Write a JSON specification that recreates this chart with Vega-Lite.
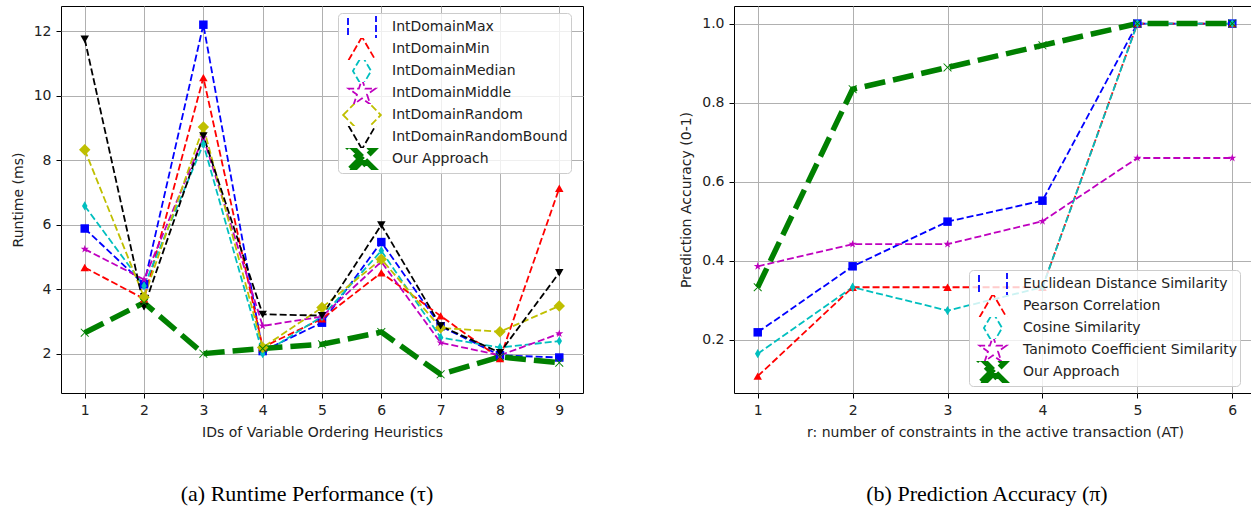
{
  "$schema": "https://vega.github.io/schema/vega-lite/v6.json",
  "padding": {"left": 10, "top": 5, "right": 0, "bottom": 0},
  "background": "white",
  "datasets": {
    "rt": [
      {"id": 1, "heuristic": "IntDomainMax", "runtime": 5.88},
      {"id": 2, "heuristic": "IntDomainMax", "runtime": 4.15},
      {"id": 3, "heuristic": "IntDomainMax", "runtime": 12.2},
      {"id": 4, "heuristic": "IntDomainMax", "runtime": 2.08},
      {"id": 5, "heuristic": "IntDomainMax", "runtime": 2.96},
      {"id": 6, "heuristic": "IntDomainMax", "runtime": 5.46},
      {"id": 7, "heuristic": "IntDomainMax", "runtime": 2.85},
      {"id": 8, "heuristic": "IntDomainMax", "runtime": 1.95},
      {"id": 9, "heuristic": "IntDomainMax", "runtime": 1.88},
      {"id": 1, "heuristic": "IntDomainMin", "runtime": 4.67},
      {"id": 2, "heuristic": "IntDomainMin", "runtime": 3.7},
      {"id": 3, "heuristic": "IntDomainMin", "runtime": 10.56},
      {"id": 4, "heuristic": "IntDomainMin", "runtime": 2.2},
      {"id": 5, "heuristic": "IntDomainMin", "runtime": 3.08},
      {"id": 6, "heuristic": "IntDomainMin", "runtime": 4.51},
      {"id": 7, "heuristic": "IntDomainMin", "runtime": 3.17},
      {"id": 8, "heuristic": "IntDomainMin", "runtime": 1.85},
      {"id": 9, "heuristic": "IntDomainMin", "runtime": 7.13},
      {"id": 1, "heuristic": "IntDomainMedian", "runtime": 6.58},
      {"id": 2, "heuristic": "IntDomainMedian", "runtime": 4.1},
      {"id": 3, "heuristic": "IntDomainMedian", "runtime": 8.5},
      {"id": 4, "heuristic": "IntDomainMedian", "runtime": 2.0},
      {"id": 5, "heuristic": "IntDomainMedian", "runtime": 3.15},
      {"id": 6, "heuristic": "IntDomainMedian", "runtime": 5.19},
      {"id": 7, "heuristic": "IntDomainMedian", "runtime": 2.5},
      {"id": 8, "heuristic": "IntDomainMedian", "runtime": 2.19},
      {"id": 9, "heuristic": "IntDomainMedian", "runtime": 2.39},
      {"id": 1, "heuristic": "IntDomainMiddle", "runtime": 5.24},
      {"id": 2, "heuristic": "IntDomainMiddle", "runtime": 4.3},
      {"id": 3, "heuristic": "IntDomainMiddle", "runtime": 8.7},
      {"id": 4, "heuristic": "IntDomainMiddle", "runtime": 2.86},
      {"id": 5, "heuristic": "IntDomainMiddle", "runtime": 3.15},
      {"id": 6, "heuristic": "IntDomainMiddle", "runtime": 4.85},
      {"id": 7, "heuristic": "IntDomainMiddle", "runtime": 2.34},
      {"id": 8, "heuristic": "IntDomainMiddle", "runtime": 1.95},
      {"id": 9, "heuristic": "IntDomainMiddle", "runtime": 2.62},
      {"id": 1, "heuristic": "IntDomainRandom", "runtime": 8.32},
      {"id": 2, "heuristic": "IntDomainRandom", "runtime": 3.75},
      {"id": 3, "heuristic": "IntDomainRandom", "runtime": 9.03},
      {"id": 4, "heuristic": "IntDomainRandom", "runtime": 2.19},
      {"id": 5, "heuristic": "IntDomainRandom", "runtime": 3.43},
      {"id": 6, "heuristic": "IntDomainRandom", "runtime": 4.93},
      {"id": 7, "heuristic": "IntDomainRandom", "runtime": 2.8},
      {"id": 8, "heuristic": "IntDomainRandom", "runtime": 2.68},
      {"id": 9, "heuristic": "IntDomainRandom", "runtime": 3.48},
      {"id": 1, "heuristic": "IntDomainRandomBound", "runtime": 11.75},
      {"id": 2, "heuristic": "IntDomainRandomBound", "runtime": 3.45},
      {"id": 3, "heuristic": "IntDomainRandomBound", "runtime": 8.75},
      {"id": 4, "heuristic": "IntDomainRandomBound", "runtime": 3.22},
      {"id": 5, "heuristic": "IntDomainRandomBound", "runtime": 3.18},
      {"id": 6, "heuristic": "IntDomainRandomBound", "runtime": 5.99},
      {"id": 7, "heuristic": "IntDomainRandomBound", "runtime": 2.86},
      {"id": 8, "heuristic": "IntDomainRandomBound", "runtime": 2.03},
      {"id": 9, "heuristic": "IntDomainRandomBound", "runtime": 4.51},
      {"id": 1, "heuristic": "Our Approach", "runtime": 2.65},
      {"id": 2, "heuristic": "Our Approach", "runtime": 3.58},
      {"id": 3, "heuristic": "Our Approach", "runtime": 2.0},
      {"id": 4, "heuristic": "Our Approach", "runtime": 2.16},
      {"id": 5, "heuristic": "Our Approach", "runtime": 2.29},
      {"id": 6, "heuristic": "Our Approach", "runtime": 2.67},
      {"id": 7, "heuristic": "Our Approach", "runtime": 1.36},
      {"id": 8, "heuristic": "Our Approach", "runtime": 1.9},
      {"id": 9, "heuristic": "Our Approach", "runtime": 1.72}
    ],
    "acc": [
      {"r": 1, "method": "Euclidean Distance Similarity", "accuracy": 0.219},
      {"r": 2, "method": "Euclidean Distance Similarity", "accuracy": 0.386},
      {"r": 3, "method": "Euclidean Distance Similarity", "accuracy": 0.499},
      {"r": 4, "method": "Euclidean Distance Similarity", "accuracy": 0.552},
      {"r": 5, "method": "Euclidean Distance Similarity", "accuracy": 1.0},
      {"r": 6, "method": "Euclidean Distance Similarity", "accuracy": 1.0},
      {"r": 1, "method": "Pearson Correlation", "accuracy": 0.108},
      {"r": 2, "method": "Pearson Correlation", "accuracy": 0.333},
      {"r": 3, "method": "Pearson Correlation", "accuracy": 0.333},
      {"r": 4, "method": "Pearson Correlation", "accuracy": 0.333},
      {"r": 5, "method": "Pearson Correlation", "accuracy": 1.0},
      {"r": 6, "method": "Pearson Correlation", "accuracy": 1.0},
      {"r": 1, "method": "Cosine Similarity", "accuracy": 0.165},
      {"r": 2, "method": "Cosine Similarity", "accuracy": 0.333},
      {"r": 3, "method": "Cosine Similarity", "accuracy": 0.274},
      {"r": 4, "method": "Cosine Similarity", "accuracy": 0.333},
      {"r": 5, "method": "Cosine Similarity", "accuracy": 1.0},
      {"r": 6, "method": "Cosine Similarity", "accuracy": 1.0},
      {"r": 1, "method": "Tanimoto Coefficient Similarity", "accuracy": 0.386},
      {"r": 2, "method": "Tanimoto Coefficient Similarity", "accuracy": 0.442},
      {"r": 3, "method": "Tanimoto Coefficient Similarity", "accuracy": 0.442},
      {"r": 4, "method": "Tanimoto Coefficient Similarity", "accuracy": 0.5},
      {"r": 5, "method": "Tanimoto Coefficient Similarity", "accuracy": 0.66},
      {"r": 6, "method": "Tanimoto Coefficient Similarity", "accuracy": 0.66},
      {"r": 1, "method": "Our Approach", "accuracy": 0.333},
      {"r": 2, "method": "Our Approach", "accuracy": 0.834},
      {"r": 3, "method": "Our Approach", "accuracy": 0.889},
      {"r": 4, "method": "Our Approach", "accuracy": 0.945},
      {"r": 5, "method": "Our Approach", "accuracy": 1.0},
      {"r": 6, "method": "Our Approach", "accuracy": 1.0}
    ]
  },
  "spacing": 95,
  "resolve": {
    "scale": {"color": "independent", "fill": "independent", "shape": "independent", "strokeDash": "independent", "strokeWidth": "independent"},
    "legend": {"color": "independent", "fill": "independent", "shape": "independent", "strokeDash": "independent", "strokeWidth": "independent"}
  },
  "hconcat": [
    {
      "width": 522,
      "height": 387,
      "data": {"name": "rt"},
      "title": {"text": "(a) Runtime Performance (τ)", "orient": "bottom", "font": "Liberation Serif", "fontSize": 22, "fontWeight": "normal", "color": "#000", "offset": 45, "dx": -15},
      "layer": [
        {
          "mark": {"type": "line"},
          "encoding": {
            "x": {"field": "id", "type": "quantitative", "scale": {"domain": [0.6, 9.4], "nice": false, "zero": false}, "axis": {"title": "IDs of Variable Ordering Heuristics", "values": [1, 2, 3, 4, 5, 6, 7, 8, 9], "format": "d"}},
            "y": {"field": "runtime", "type": "quantitative", "scale": {"domain": [0.78, 12.78], "nice": false, "zero": false}, "axis": {"title": "Runtime (ms)", "values": [2, 4, 6, 8, 10, 12]}},
            "color": {"field": "heuristic", "type": "nominal",
              "scale": {"domain": ["IntDomainMax", "IntDomainMin", "IntDomainMedian", "IntDomainMiddle", "IntDomainRandom", "IntDomainRandomBound", "Our Approach"], "range": ["#0000ff", "#ff0000", "#00bfbf", "#bf00bf", "#bfbf00", "#000000", "#008000"]},
              "legend": {"title": null, "orient": "none", "legendX": 277, "legendY": 7, "symbolType": "stroke", "symbolSize": 784, "symbolOffset": 4, "labelOffset": 13, "fillColor": "rgba(255,255,255,0.8)", "strokeColor": "#cccccc", "cornerRadius": 4}},
            "strokeDash": {"field": "heuristic", "type": "nominal",
              "scale": {"domain": ["IntDomainMax", "IntDomainMin", "IntDomainMedian", "IntDomainMiddle", "IntDomainRandom", "IntDomainRandomBound", "Our Approach"], "range": [[7, 3], [7, 3], [7, 3], [7, 3], [7, 3], [7, 3], [21, 8]]},
              "legend": {"title": null, "orient": "none", "legendX": 277, "legendY": 7}},
            "strokeWidth": {"field": "heuristic", "type": "ordinal",
              "scale": {"type": "ordinal", "domain": ["IntDomainMax", "IntDomainMin", "IntDomainMedian", "IntDomainMiddle", "IntDomainRandom", "IntDomainRandomBound", "Our Approach"], "range": [1.8, 1.8, 1.8, 1.8, 1.8, 1.8, 5.5]},
              "legend": {"title": null, "orient": "none", "legendX": 277, "legendY": 7}}
          }
        },
        {
          "mark": {"type": "point", "filled": true, "opacity": 1, "size": 72},
          "encoding": {
            "x": {"field": "id", "type": "quantitative"},
            "y": {"field": "runtime", "type": "quantitative"},
            "fill": {"field": "heuristic", "type": "nominal",
              "scale": {"domain": ["Our Approach", "IntDomainRandomBound", "IntDomainRandom", "IntDomainMiddle", "IntDomainMedian", "IntDomainMin", "IntDomainMax"], "range": ["#008000", "#000000", "#bfbf00", "#bf00bf", "#00bfbf", "#ff0000", "#0000ff"]},
              "legend": null},
            "shape": {"field": "heuristic", "type": "nominal",
              "scale": {"domain": ["IntDomainMax", "IntDomainMin", "IntDomainMedian", "IntDomainMiddle", "IntDomainRandom", "IntDomainRandomBound", "Our Approach"],
                "range": ["square", "triangle-up", "M0,-1.1L0.65,0L0,1.1L-0.65,0Z", "M0,-1L0.223,-0.307L0.951,-0.309L0.361,0.117L0.588,0.809L0,0.38L-0.588,0.809L-0.361,0.117L-0.951,-0.309L-0.223,-0.307Z", "M-1.35,0L0,-1.35L1.35,0L0,1.35Z", "triangle-down", "M-1,-0.85L-0.85,-1L0,-0.15L0.85,-1L1,-0.85L0.15,0L1,0.85L0.85,1L0,0.15L-0.85,1L-1,0.85L-0.15,0Z"]},
              "legend": null}
          }
        }
      ]
    },
    {
      "width": 522,
      "height": 387,
      "data": {"name": "acc"},
      "title": {"text": "(b) Prediction Accuracy (π)", "orient": "bottom", "font": "Liberation Serif", "fontSize": 22, "fontWeight": "normal", "color": "#000", "offset": 45, "dx": -8},
      "layer": [
        {
          "mark": {"type": "line"},
          "encoding": {
            "x": {"field": "r", "type": "quantitative", "scale": {"domain": [0.75, 6.25], "nice": false, "zero": false}, "axis": {"title": "r: number of constraints in the active transaction (AT)", "values": [1, 2, 3, 4, 5, 6], "format": "d"}},
            "y": {"field": "accuracy", "type": "quantitative", "scale": {"domain": [0.0655, 1.0445], "nice": false, "zero": false}, "axis": {"title": "Prediction Accuracy (0-1)", "values": [0.2, 0.4, 0.6, 0.8, 1.0], "format": ".1f"}},
            "color": {"field": "method", "type": "nominal",
              "scale": {"domain": ["Euclidean Distance Similarity", "Pearson Correlation", "Cosine Similarity", "Tanimoto Coefficient Similarity", "Our Approach"], "range": ["#0000ff", "#ff0000", "#00bfbf", "#bf00bf", "#008000"]},
              "legend": {"title": null, "orient": "none", "legendX": 235, "legendY": 264, "symbolType": "stroke", "symbolSize": 784, "symbolOffset": 4, "labelOffset": 13, "fillColor": "rgba(255,255,255,0.8)", "strokeColor": "#cccccc", "cornerRadius": 4}},
            "strokeDash": {"field": "method", "type": "nominal",
              "scale": {"domain": ["Euclidean Distance Similarity", "Pearson Correlation", "Cosine Similarity", "Tanimoto Coefficient Similarity", "Our Approach"], "range": [[7, 3], [7, 3], [7, 3], [7, 3], [21, 8]]},
              "legend": {"title": null, "orient": "none", "legendX": 235, "legendY": 264}},
            "strokeWidth": {"field": "method", "type": "ordinal",
              "scale": {"type": "ordinal", "domain": ["Euclidean Distance Similarity", "Pearson Correlation", "Cosine Similarity", "Tanimoto Coefficient Similarity", "Our Approach"], "range": [1.8, 1.8, 1.8, 1.8, 5.5]},
              "legend": {"title": null, "orient": "none", "legendX": 235, "legendY": 264}}
          }
        },
        {
          "mark": {"type": "point", "filled": true, "opacity": 1, "size": 72},
          "encoding": {
            "x": {"field": "r", "type": "quantitative"},
            "y": {"field": "accuracy", "type": "quantitative"},
            "fill": {"field": "method", "type": "nominal",
              "scale": {"domain": ["Our Approach", "Tanimoto Coefficient Similarity", "Cosine Similarity", "Pearson Correlation", "Euclidean Distance Similarity"], "range": ["#008000", "#bf00bf", "#00bfbf", "#ff0000", "#0000ff"]},
              "legend": null},
            "shape": {"field": "method", "type": "nominal",
              "scale": {"domain": ["Euclidean Distance Similarity", "Pearson Correlation", "Cosine Similarity", "Tanimoto Coefficient Similarity", "Our Approach"],
                "range": ["square", "triangle-up", "M0,-1.1L0.65,0L0,1.1L-0.65,0Z", "M0,-1L0.223,-0.307L0.951,-0.309L0.361,0.117L0.588,0.809L0,0.38L-0.588,0.809L-0.361,0.117L-0.951,-0.309L-0.223,-0.307Z", "M-1,-0.85L-0.85,-1L0,-0.15L0.85,-1L1,-0.85L0.15,0L1,0.85L0.85,1L0,0.15L-0.85,1L-1,0.85L-0.15,0Z"]},
              "legend": null}
          }
        }
      ]
    }
  ],
  "config": {
    "view": {"stroke": "#000000", "strokeWidth": 1},
    "axis": {"labelFont": "DejaVu Sans", "labelFontSize": 14, "labelColor": "#222222", "titleFont": "DejaVu Sans", "titleFontSize": 14, "titleFontWeight": "normal", "titleColor": "#222222", "gridColor": "#b0b0b0", "gridOpacity": 1, "gridWidth": 1, "domain": false, "tickColor": "#000000", "tickSize": 5, "labelPadding": 5, "titlePadding": 8},
    "legend": {"labelFont": "DejaVu Sans", "labelFontSize": 14, "labelColor": "#222222", "clipHeight": 22, "rowPadding": 0, "padding": 3, "labelLimit": 400}
  }
}
